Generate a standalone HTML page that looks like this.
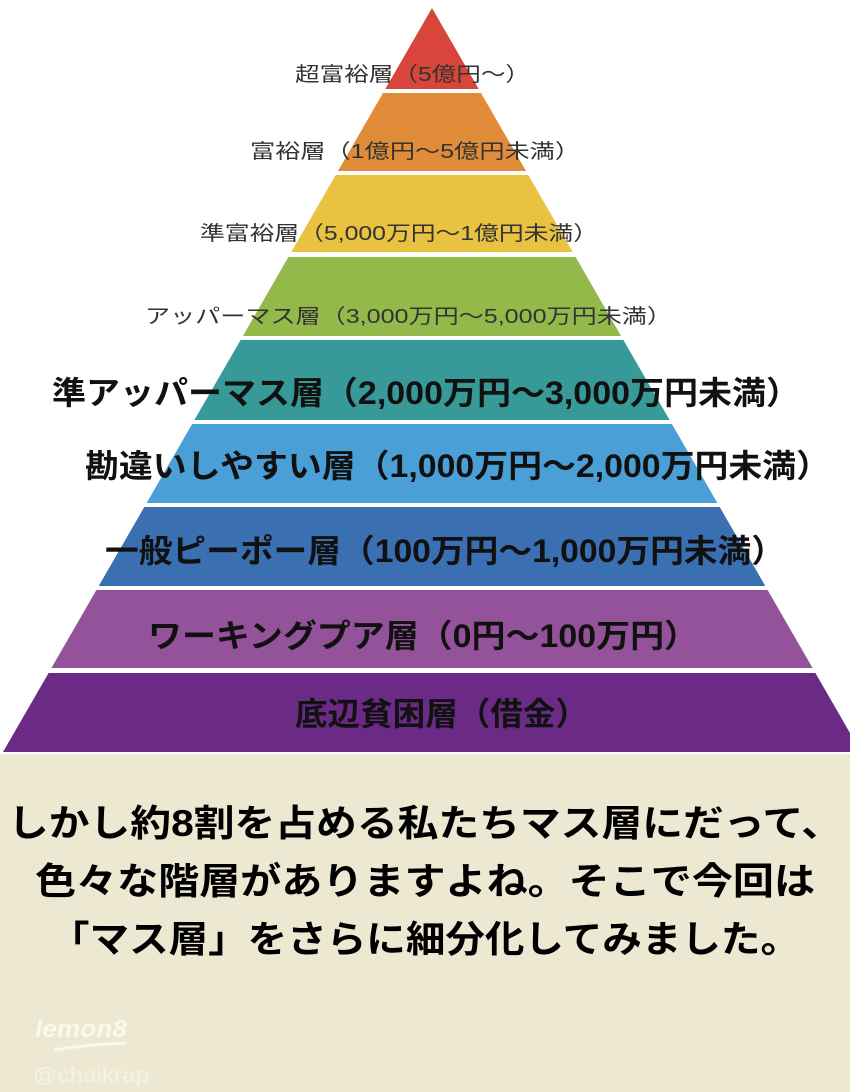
<!DOCTYPE html>
<html><head><meta charset="utf-8"><style>
html,body{margin:0;padding:0;width:850px;height:1092px;overflow:hidden;background:#fff}
svg{display:block}
text{font-family:"Liberation Sans","Noto Sans CJK JP",sans-serif}
</style></head><body>
<svg width="850" height="1092" viewBox="0 0 850 1092">
<rect x="0" y="0" width="850" height="754" fill="#fff"/>
<rect x="0" y="754" width="850" height="338" fill="#ede8d2"/>
<polygon points="432,8 478.7,89 385.3,89" fill="#d8453b"/>
<polygon points="383,93 481,93 526,171 338,171" fill="#e08c38"/>
<polygon points="335.7,175 528.3,175 572.7,252 291.3,252" fill="#e8c240"/>
<polygon points="288.4,257 575.6,257 621.1,336 242.9,336" fill="#94b94b"/>
<polygon points="240.6,340 623.4,340 669.6,420 194.4,420" fill="#389a98"/>
<polygon points="192.1,424 671.9,424 717.4,503 146.6,503" fill="#4b9fd7"/>
<polygon points="144.3,507 719.7,507 765.3,586 98.7,586" fill="#3a6fb1"/>
<polygon points="96.4,590 767.6,590 812.6,668 51.4,668" fill="#935299"/>
<polygon points="48.6,673 815.4,673 861,752 3,752" fill="#6a2a86"/>
<g fill="#333" font-size="20">
<text x="295" y="81" textLength="235" lengthAdjust="spacingAndGlyphs">超富裕層（5億円〜）</text>
<text x="250" y="158" textLength="330" lengthAdjust="spacingAndGlyphs">富裕層（1億円〜5億円未満）</text>
<text x="200" y="240" textLength="398" lengthAdjust="spacingAndGlyphs">準富裕層（5,000万円〜1億円未満）</text>
<text x="145" y="323" textLength="527" lengthAdjust="spacingAndGlyphs">アッパーマス層（3,000万円〜5,000万円未満）</text>
</g>
<g fill="#111" font-size="32" font-weight="bold">
<text x="52" y="404" textLength="748" lengthAdjust="spacingAndGlyphs">準アッパーマス層（2,000万円～3,000万円未満）</text>
<text x="85" y="477" textLength="745" lengthAdjust="spacingAndGlyphs">勘違いしやすい層（1,000万円～2,000万円未満）</text>
<text x="105" y="562" textLength="680" lengthAdjust="spacingAndGlyphs">一般ピーポー層（100万円～1,000万円未満）</text>
<text x="148" y="647" textLength="550" lengthAdjust="spacingAndGlyphs">ワーキングプア層（0円～100万円）</text>
<text x="295" y="725" textLength="293" lengthAdjust="spacingAndGlyphs">底辺貧困層（借金）</text>
</g>
<g fill="#000" font-size="37" font-weight="bold">
<text x="8" y="836" textLength="834" lengthAdjust="spacingAndGlyphs">しかし約8割を占める私たちマス層にだって、</text>
<text x="35" y="894" textLength="780" lengthAdjust="spacingAndGlyphs">色々な階層がありますよね。そこで今回は</text>
<text x="50" y="952" textLength="750" lengthAdjust="spacingAndGlyphs">「マス層」をさらに細分化してみました。</text>
</g>
<text x="35" y="1037" font-size="24" font-weight="bold" font-style="italic" fill="#fbf8ee" textLength="92" lengthAdjust="spacingAndGlyphs">lemon8</text>
<path d="M55 1050 Q90 1044 125 1043" stroke="#fbf8ee" stroke-width="3" fill="none" stroke-linecap="round"/>
<text x="33" y="1082" font-size="20" fill="#f7f3e4" textLength="116" lengthAdjust="spacingAndGlyphs">@chaikrap</text>
</svg>
</body></html>
